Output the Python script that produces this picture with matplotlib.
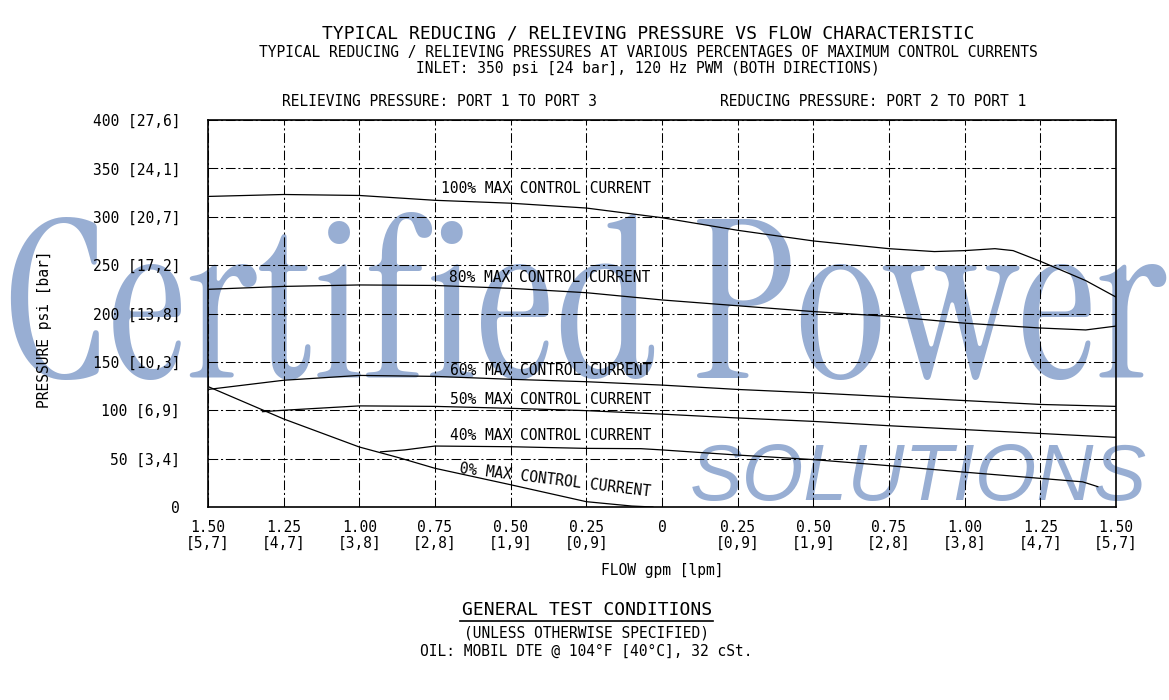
import numpy as np
import matplotlib
matplotlib.use('Agg')
import matplotlib.pyplot as plt
from matplotlib.lines import Line2D

# 1. Datos (flujo en gpm: negativo = alivio puerto 1->3, positivo = reduccion 2->1)
x_100 = [-1.5, -1.25, -1.0, -0.75, -0.5, -0.25, 0.0, 0.25, 0.5, 0.75, 0.9, 1.0, 1.1, 1.16, 1.25, 1.4, 1.5]
y_100 = [321, 323, 322, 317, 314, 309, 299, 286, 275, 267, 264, 265, 267, 265, 254, 234, 217]

x_80 = [-1.5, -1.25, -1.0, -0.75, -0.5, -0.25, 0.0, 0.25, 0.5, 0.75, 1.0, 1.25, 1.4, 1.5]
y_80 = [225, 228, 229.5, 229, 226, 221.5, 214, 208, 202, 197, 190, 185, 183, 187]

x_60 = [-1.5, -1.25, -1.0, -0.75, -0.5, -0.25, 0.0, 0.25, 0.5, 0.75, 1.0, 1.25, 1.5]
y_60 = [121.5, 131, 136, 135, 132, 129.5, 126, 121.5, 118, 114, 110, 106, 104]

x_50 = [-1.32, -1.25, -1.0, -0.75, -0.5, -0.25, 0.0, 0.25, 0.5, 0.75, 1.0, 1.25, 1.5]
y_50 = [98.5, 100, 104.5, 104, 102, 99.6, 96, 92, 88.5, 84, 80, 76, 72]

x_40 = [-0.93, -0.85, -0.75, -0.5, -0.25, -0.07, 0.0, 0.25, 0.5, 0.75, 1.0, 1.25, 1.39, 1.44]
y_40 = [57, 59, 63, 62.3, 60.6, 60.3, 59, 53.7, 49, 42.7, 36, 29.6, 26, 21]

x_0 = [-1.5, -1.25, -1.0, -0.87, -0.75, -0.5, -0.25, -0.1, -0.03]
y_0 = [124.5, 91, 62, 51, 40, 23, 5.5, 1, 0]

curvas = [(x_100, y_100), (x_80, y_80), (x_60, y_60), (x_50, y_50), (x_40, y_40), (x_0, y_0)]

x_ticks = [-1.5, -1.25, -1.0, -0.75, -0.5, -0.25, 0, 0.25, 0.5, 0.75, 1.0, 1.25, 1.5]
x_labels = ['1.50\n[5,7]', '1.25\n[4,7]', '1.00\n[3,8]', '0.75\n[2,8]', '0.50\n[1,9]', '0.25\n[0,9]', '0\n ',
            '0.25\n[0,9]', '0.50\n[1,9]', '0.75\n[2,8]', '1.00\n[3,8]', '1.25\n[4,7]', '1.50\n[5,7]']
y_ticks = [0, 50, 100, 150, 200, 250, 300, 350, 400]
y_labels = ['0', '50 [3,4]', '100 [6,9]', '150 [10,3]', '200 [13,8]', '250 [17,2]',
            '300 [20,7]', '350 [24,1]', '400 [27,6]']

etiquetas = [
    ('100% MAX CONTROL CURRENT', -0.73, 328.7),
    ('80% MAX CONTROL CURRENT', -0.704, 237.7),
    ('60% MAX CONTROL CURRENT', -0.70, 141.6),
    ('50% MAX CONTROL CURRENT', -0.70, 110.6),
    ('40% MAX CONTROL CURRENT', -0.70, 73.4),
]

# 2. Estilo
plt.rcParams['font.family'] = 'DejaVu Sans Mono'
plt.rcParams['lines.scale_dashes'] = False
AZUL = '#98AED3'

fig = plt.figure(figsize=(11.69, 7.0), dpi=100)
W, H = 1169, 700

def px(x, y):
    return x / W, 1 - y / H

# marca de agua (detras de todo)
fig.text(*px(2, 378), 'Certified Power', family=['Instrument Serif', 'Liberation Serif'],
         fontsize=159, color=AZUL, ha='left', va='baseline', zorder=-1)
fig.text(*px(690, 500), 'SOLUTIONS', family=['Liberation Sans'], style='italic',
         fontsize=57, color=AZUL, ha='left', va='baseline', zorder=-1)

ax = fig.add_axes([208 / W, 1 - 507 / H, 908 / W, 387 / H])
ax.patch.set_alpha(0)
ax.set_xlim(-1.5, 1.5)
ax.set_ylim(0, 400)

for xs, ys in curvas:
    ax.plot(xs, ys, color='black', lw=0.9, zorder=3)

for txt, xv, yv in etiquetas:
    ax.text(xv, yv, txt, fontsize=10.5, ha='left', va='center', zorder=4)
ax.text(-0.353, 27.9, '0% MAX CONTROL CURRENT', fontsize=10.5, ha='center', va='center',
        rotation=-7, rotation_mode='anchor', zorder=4)

ax.set_xticks(x_ticks)
ax.set_xticklabels(x_labels, fontsize=10.5, linespacing=1.1)
ax.set_yticks(y_ticks)
ax.set_yticklabels(y_labels, fontsize=10.5)
ax.tick_params(length=0)
ax.tick_params(axis='x', pad=9)
ax.tick_params(axis='y', pad=20)
ax.grid(True, color='black', lw=0.75, linestyle=(0, (7, 2, 1.5, 2)))
for s in ax.spines.values():
    s.set_linewidth(1.2)

# 3. Textos
fig.text(*px(648, 34), 'TYPICAL REDUCING / RELIEVING PRESSURE VS FLOW CHARACTERISTIC',
         fontsize=13, ha='center', va='center')
fig.text(*px(648, 52), 'TYPICAL REDUCING / RELIEVING PRESSURES AT VARIOUS PERCENTAGES OF MAXIMUM CONTROL CURRENTS',
         fontsize=10.5, ha='center', va='center')
fig.text(*px(648, 69), 'INLET: 350 psi [24 bar], 120 Hz PWM (BOTH DIRECTIONS)',
         fontsize=10.5, ha='center', va='center')
fig.text(*px(440, 101), 'RELIEVING PRESSURE: PORT 1 TO PORT 3', fontsize=10.5, ha='center', va='center')
fig.text(*px(873, 101), 'REDUCING PRESSURE: PORT 2 TO PORT 1', fontsize=10.5, ha='center', va='center')
fig.text(*px(45, 329), 'PRESSURE psi [bar]', fontsize=10.5, ha='center', va='center', rotation=90)
fig.text(*px(662, 571), 'FLOW gpm [lpm]', fontsize=10.5, ha='center', va='center')

fig.text(*px(587, 610), 'GENERAL TEST CONDITIONS', fontsize=13, ha='center', va='center')
fig.add_artist(Line2D([460 / W, 713 / W], [1 - 621 / H, 1 - 621 / H], color='black', lw=1.2))
fig.text(*px(587, 633), '(UNLESS OTHERWISE SPECIFIED)', fontsize=10.5, ha='center', va='center')
fig.text(*px(586, 651), 'OIL: MOBIL DTE @ 104°F [40°C], 32 cSt.', fontsize=10.5, ha='center', va='center')

fig.savefig('out.png', dpi=100)
